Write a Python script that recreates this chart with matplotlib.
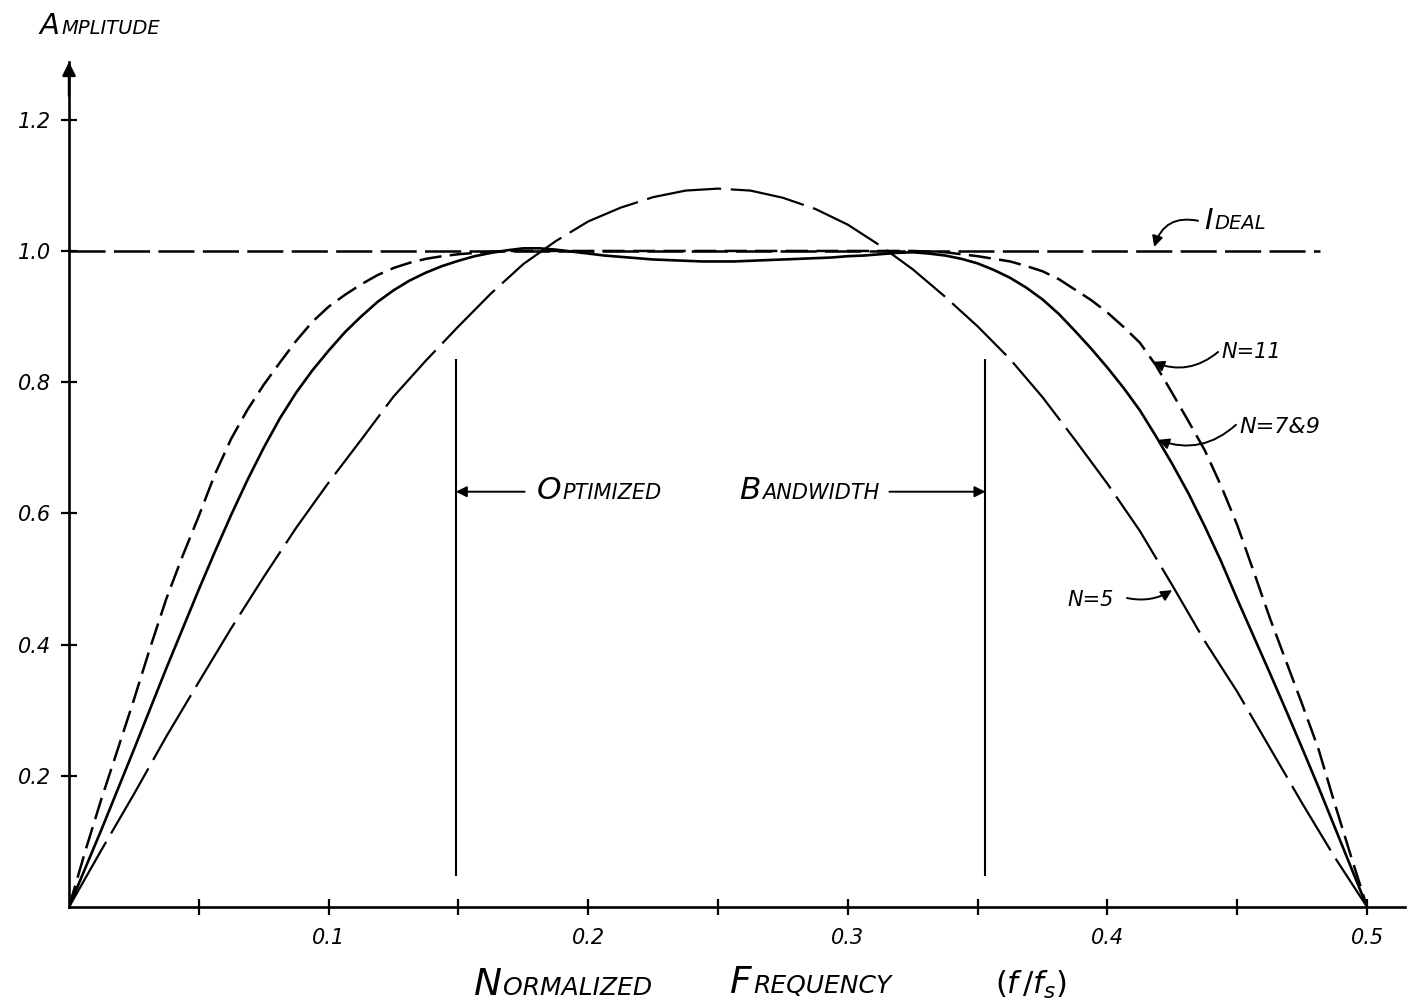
import matplotlib
matplotlib.use('Agg')
import matplotlib.pyplot as plt
from matplotlib.offsetbox import TextArea, HPacker, AnnotationBbox

plt.rcParams['font.family'] = ['DejaVu Sans']
plt.rcParams['lines.scale_dashes'] = False

# normalized frequency f/fs, coarse grid (every 0.0125) for the N=5 response
freq = [0.0, 0.0125, 0.025, 0.0375, 0.05, 0.0625, 0.075, 0.0875, 0.1, 0.1125,
        0.125, 0.1375, 0.15, 0.1625, 0.175, 0.1875, 0.2, 0.2125, 0.225, 0.2375,
        0.25, 0.2625, 0.275, 0.2875, 0.3, 0.3125, 0.325, 0.3375, 0.35, 0.3625,
        0.375, 0.3875, 0.4, 0.4125, 0.425, 0.4375, 0.45, 0.4625, 0.475, 0.4875,
        0.5]

# fine grid (every 0.00625) for the steeper responses
freq_fine = [0.0, 0.00625, 0.0125, 0.01875, 0.025, 0.03125, 0.0375, 0.04375,
             0.05, 0.05625, 0.0625, 0.06875, 0.075, 0.08125, 0.0875, 0.09375,
             0.1, 0.10625, 0.1125, 0.11875, 0.125, 0.13125, 0.1375, 0.14375,
             0.15, 0.15625, 0.1625, 0.16875, 0.175, 0.18125, 0.1875, 0.19375,
             0.2, 0.20625, 0.2125, 0.21875, 0.225, 0.23125, 0.2375, 0.24375,
             0.25, 0.25625, 0.2625, 0.26875, 0.275, 0.28125, 0.2875, 0.29375,
             0.3, 0.30625, 0.3125, 0.31875, 0.325, 0.33125, 0.3375, 0.34375,
             0.35, 0.35625, 0.3625, 0.36875, 0.375, 0.38125, 0.3875, 0.39375,
             0.4, 0.40625, 0.4125, 0.41875, 0.425, 0.43125, 0.4375, 0.44375,
             0.45, 0.45625, 0.4625, 0.46875, 0.475, 0.48125, 0.4875, 0.49375,
             0.5]

amp_n5 = [0.000, 0.087, 0.172, 0.260, 0.343, 0.425, 0.503, 0.578, 0.647, 0.712,
          0.778, 0.833, 0.885, 0.935, 0.980, 1.015, 1.045, 1.066, 1.082, 1.092,
          1.095, 1.092, 1.081, 1.064, 1.040, 1.008, 0.972, 0.930, 0.885, 0.835,
          0.777, 0.712, 0.645, 0.573, 0.490, 0.405, 0.328, 0.243, 0.158, 0.076,
          0.000]

amp_n7_9 = [0.000, 0.059, 0.118, 0.179, 0.240, 0.302, 0.364, 0.424, 0.484,
            0.542, 0.598, 0.651, 0.700, 0.745, 0.784, 0.818, 0.848, 0.876,
            0.900, 0.922, 0.940, 0.955, 0.967, 0.977, 0.985, 0.992, 0.997,
            1.001, 1.004, 1.004, 1.002, 0.999, 0.996, 0.993, 0.991, 0.989,
            0.987, 0.986, 0.985, 0.984, 0.984, 0.984, 0.985, 0.986, 0.987,
            0.988, 0.989, 0.990, 0.992, 0.993, 0.995, 0.997, 0.998, 0.996,
            0.993, 0.988, 0.981, 0.971, 0.959, 0.944, 0.926, 0.904, 0.878,
            0.851, 0.822, 0.791, 0.757, 0.717, 0.675, 0.630, 0.580, 0.527,
            0.469, 0.413, 0.357, 0.300, 0.242, 0.183, 0.122, 0.061, 0.000]

amp_n11 = [0.000, 0.085, 0.165, 0.240, 0.316, 0.395, 0.470, 0.535, 0.596,
           0.660, 0.714, 0.758, 0.796, 0.830, 0.863, 0.892, 0.915, 0.933,
           0.949, 0.963, 0.974, 0.982, 0.988, 0.992, 0.995, 0.997, 0.999,
           1.000, 1.000, 1.000, 1.000, 1.000, 1.000, 1.000, 1.000, 1.000,
           1.000, 1.000, 1.000, 1.000, 1.000, 1.000, 1.000, 1.000, 1.000,
           1.000, 1.000, 1.000, 1.000, 1.000, 1.000, 1.000, 1.000, 0.999,
           0.998, 0.995, 0.992, 0.988, 0.984, 0.977, 0.969, 0.957, 0.941,
           0.925, 0.906, 0.884, 0.860, 0.825, 0.783, 0.740, 0.696, 0.642,
           0.582, 0.512, 0.441, 0.375, 0.309, 0.241, 0.158, 0.078, 0.000]

ideal_freq = [0.0, 0.482]
ideal_amp = [1.0, 1.0]

# optimized bandwidth markers
band_edges = [0.149, 0.353]
band_low, band_high = 0.047, 0.835

xticks_major = [0.1, 0.2, 0.3, 0.4, 0.5]
xticks_minor = [0.05, 0.15, 0.25, 0.35, 0.45]
xtick_labels = ['0.1', '0.2', '0.3', '0.4', '0.5']
yticks = [0.2, 0.4, 0.6, 0.8, 1.0, 1.2]
ytick_labels = ['0.2', '0.4', '0.6', '0.8', '1.0', '1.2']

fig = plt.figure(figsize=(14.23, 10.06), dpi=100)
ax = fig.add_axes([69 / 1423, 99 / 1006, 1336 / 1423, 845 / 1006])
ax.set_xlim(0, 0.5146)
ax.set_ylim(0, 1.288)

for side in ('top', 'right'):
    ax.spines[side].set_visible(False)
for side in ('left', 'bottom'):
    ax.spines[side].set_linewidth(1.9)

# curves
ax.plot(ideal_freq, ideal_amp, color='black', lw=1.8, dashes=(26, 6))
ax.plot(freq_fine, amp_n11, color='black', lw=1.8, dashes=(16, 6))
ax.plot(freq_fine, amp_n7_9, color='black', lw=1.9)
ax.plot(freq, amp_n5, color='black', lw=1.6, dashes=(54, 7))
ax.vlines(band_edges, band_low, band_high, color='black', lw=1.5)

# ticks cross the axes, labels only every 0.1
ax.set_xticks(xticks_major)
ax.set_xticklabels(xtick_labels)
ax.set_xticks(xticks_minor, minor=True)
ax.set_yticks(yticks)
ax.set_yticklabels(ytick_labels)
ax.tick_params(which='both', direction='inout', length=12, width=1.6, labelsize=15)
ax.tick_params(axis='x', pad=9)
ax.tick_params(axis='y', pad=7)
for lab in ax.get_xticklabels() + ax.get_yticklabels():
    lab.set_fontstyle('italic')

# arrow head on the amplitude axis
ax.annotate('', xy=(0, 1), xycoords='axes fraction', xytext=(0, 0.96),
            arrowprops=dict(arrowstyle='-|>', lw=1.8, color='black',
                            mutation_scale=20, shrinkA=0, shrinkB=0))


def lettered(x, y, word, size, coords):
    # hand lettering look: big first letter, smaller capitals on the same baseline
    head = TextArea(word[0], textprops=dict(fontsize=size * 1.5, fontstyle='italic'))
    rest = TextArea(word[1:], textprops=dict(fontsize=size, fontstyle='italic'))
    box = HPacker(children=[head, rest], align='baseline', pad=0, sep=1)
    ab = AnnotationBbox(box, (x, y), xycoords=coords, box_alignment=(0, 0),
                        frameon=False, pad=0, annotation_clip=False)
    ax.add_artist(ab)


lettered(40 / 1423, 1 - 40 / 1006, 'AMPLITUDE', 14, 'figure fraction')
lettered(474 / 1423, 1 - 1003 / 1006, 'NORMALIZED', 18, 'figure fraction')
lettered(730 / 1423, 1 - 1001 / 1006, 'FREQUENCY', 18, 'figure fraction')
fig.text(995 / 1423, 1 - 994 / 1006, r'$(f\,/f_s)$', fontsize=22)

# optimized bandwidth label and arrows
lettered(0.180, 0.613, 'OPTIMIZED', 15, 'data')
lettered(0.258, 0.613, 'BANDWIDTH', 15, 'data')
arrow = dict(arrowstyle='-|>', lw=1.4, color='black', mutation_scale=16,
             shrinkA=0, shrinkB=0)
ax.annotate('', xy=(band_edges[0], 0.633), xytext=(0.1755, 0.633), arrowprops=arrow)
ax.annotate('', xy=(band_edges[1], 0.633), xytext=(0.316, 0.633), arrowprops=arrow)

# curve labels
lettered(0.4372, 1.024, 'IDEAL', 14, 'data')
ax.annotate('', xy=(0.418, 1.006), xytext=(0.4349, 1.046),
            arrowprops=dict(arrow, connectionstyle='arc3,rad=0.45'))

ax.text(0.444, 0.837, 'N=11', fontsize=15, fontstyle='italic', va='baseline')
ax.annotate('', xy=(0.4176, 0.831), xytext=(0.4426, 0.846),
            arrowprops=dict(arrow, connectionstyle='arc3,rad=-0.3'))

ax.text(0.451, 0.7226, 'N=7&9', fontsize=16, fontstyle='italic', va='baseline')
ax.annotate('', xy=(0.4195, 0.712), xytext=(0.4495, 0.735),
            arrowprops=dict(arrow, connectionstyle='arc3,rad=-0.3'))

ax.text(0.3844, 0.4588, 'N=5', fontsize=15, fontstyle='italic', va='baseline')
ax.annotate('', xy=(0.4249, 0.483), xytext=(0.4075, 0.471),
            arrowprops=dict(arrow, connectionstyle='arc3,rad=0.2'))

fig.savefig('out.png', dpi=100)
